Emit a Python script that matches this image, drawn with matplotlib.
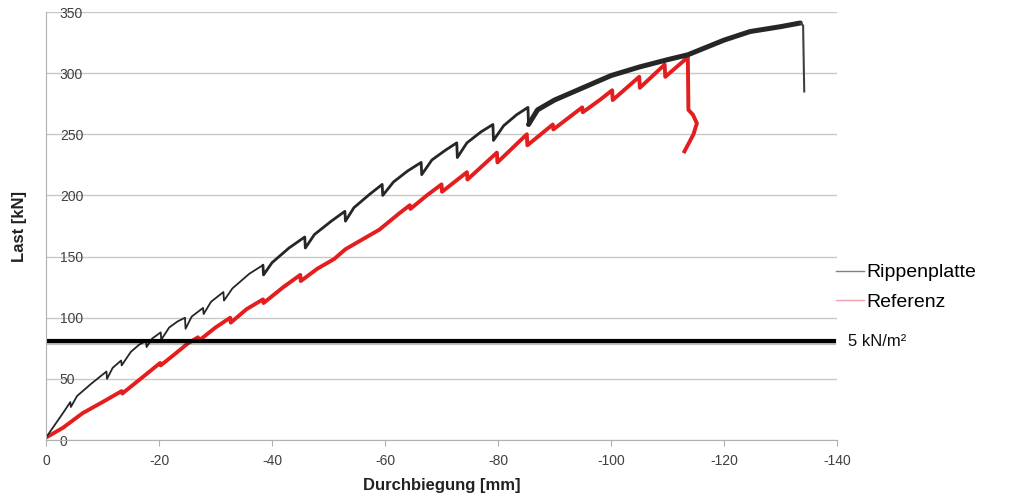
import matplotlib.pyplot as plt
from matplotlib.lines import Line2D
import matplotlib.patheffects as pe

plt.rcParams['font.family'] = ['Liberation Sans', 'DejaVu Sans']
plt.rcParams['axes.unicode_minus'] = False

# Rippenplatte (schwarz) - Durchbiegung [mm], Last [kN]
rip_x = [0, -1.5, -3, -4.3, -4.4, -5.5, -8, -10.7, -10.8, -11.8, -13.3, -13.4, -15, -16.5, -17.7,
         -17.8, -18.8, -20.3, -20.4, -21.8, -23.3, -24.6, -24.7, -25.8, -27.8, -27.9, -29.2, -31.4,
         -31.5, -33, -36, -38.4, -38.5, -40, -43, -45.8, -45.9, -47.5, -50.5, -52.9, -53, -54.5,
         -57.3, -59.5, -59.6, -61.5, -64, -66.4, -66.5, -68.3, -70.7, -72.7, -72.8, -74.5, -77,
         -79.1, -79.2, -81, -83.3, -85.3, -85.4, -87, -90, -95, -100, -105, -110, -113.6, -120,
         -124.6, -130, -133.5, -134, -134.2]
rip_y = [2, 12, 22, 31, 27, 36, 46, 56, 50, 59, 65, 61, 72, 78, 81,
         76, 83, 88, 82, 92, 97, 100, 91, 101, 108, 103, 113, 121,
         114, 124, 136, 143, 135, 145, 157, 166, 157, 168, 179, 187, 179, 190,
         201, 209, 200, 211, 220, 227, 217, 229, 237, 243, 231, 243, 252,
         258, 245, 257, 266, 272, 258, 270, 278, 288, 298, 305, 311, 315, 327,
         334, 338, 341, 339, 285]

# Referenz (rot)
ref_x = [0, -3, -6.5, -10, -13.4, -13.5, -17, -20.2, -20.3, -23, -25.1, -26.9, -27, -30, -32.6,
         -32.7, -35.5, -38.4, -38.5, -42, -45, -45.1, -48, -51, -53, -56, -59, -62.7, -64.4,
         -64.5, -67.4, -70, -70.1, -74.5, -74.6, -79.8, -79.9, -85.1, -85.2, -89.7, -89.8, -94.9,
         -95, -98, -100.2, -100.3, -105, -105.1, -109.5, -109.6, -113.6, -113.7, -114.5, -115.2,
         -114.6, -113]
ref_y = [2, 10, 22, 31, 40, 38, 51, 63, 61, 71, 79, 84, 81, 92, 100,
         96, 107, 115, 112, 125, 135, 130, 140, 148, 156, 164, 172, 186, 192,
         189, 200, 209, 203, 219, 213, 235, 227, 250, 241, 258, 254, 272,
         268, 278, 286, 278, 297, 288, 307, 297, 313, 270, 266, 259,
         250, 236]

grenzlast = 81  # 5 kN/m²
x_ticks = [0, -20, -40, -60, -80, -100, -120, -140]
y_ticks = [0, 50, 100, 150, 200, 250, 300, 350]

fig = plt.figure(figsize=(10.09, 4.94), dpi=100)
ax = fig.add_axes([46 / 1009, 54 / 494, 791 / 1009, 428 / 494])

ax.plot(ref_x, ref_y, color='#e41e1e', lw=2.8)

# Linie wird zum Ende hin dicker (dichte Messpunkte)
i1 = rip_x.index(-38.4)
i2 = rip_x.index(-87)
i3 = rip_x.index(-133.5)
ax.plot(rip_x[:i1 + 1], rip_y[:i1 + 1], color='#262626', lw=1.3, solid_capstyle='round')
ax.plot(rip_x[i1:i2 + 1], rip_y[i1:i2 + 1], color='#262626', lw=2.0, solid_capstyle='round')
ax.plot(rip_x[i2 - 1:i3 + 1], rip_y[i2 - 1:i3 + 1], color='#262626', lw=3.6, solid_capstyle='round')
ax.plot(rip_x[i3:], rip_y[i3:], color='#404040', lw=1.5)

ax.plot([0, -139.5], [grenzlast, grenzlast], color='black', lw=3,
        path_effects=[pe.SimpleLineShadow(offset=(0, -1.5), alpha=0.25), pe.Normal()])

ax.set_xlim(0, -140)
ax.set_ylim(0, 350)
ax.set_xticks(x_ticks)
ax.set_yticks(y_ticks)
ax.grid(axis='y', color='#c8c8c8', lw=1)
ax.set_axisbelow(True)
for s in ['top', 'right']:
    ax.spines[s].set_visible(False)
ax.spines['left'].set_color('#b0b0b0')
ax.spines['bottom'].set_color('#b0b0b0')

ax.tick_params(axis='x', colors='#b0b0b0', labelcolor='#404040', labelsize=10, length=4, pad=6)
ax.tick_params(axis='y', length=0, pad=-10, labelcolor='#404040', labelsize=10)
for lbl in ax.get_yticklabels():
    lbl.set_horizontalalignment('left')

ax.set_xlabel('Durchbiegung [mm]', fontsize=12, fontweight='bold', color='#222222', labelpad=7)
ax.set_ylabel('Last [kN]', fontsize=12, fontweight='bold', color='#222222', labelpad=14)

handles = [Line2D([], [], color='#808080', lw=1), Line2D([], [], color='#f0a0b0', lw=1)]
fig.legend(handles, ['Rippenplatte', 'Referenz'], loc='upper left',
           bbox_to_anchor=(828 / 1009, 1 - 256 / 494), frameon=False, fontsize=14,
           handlelength=1.45, handletextpad=0.1, labelspacing=0.62, borderaxespad=0)
fig.text(848 / 1009, 1 - 341 / 494, '5 kN/m²', fontsize=12, va='center', color='#111111')

fig.savefig('out.png', dpi=100)
